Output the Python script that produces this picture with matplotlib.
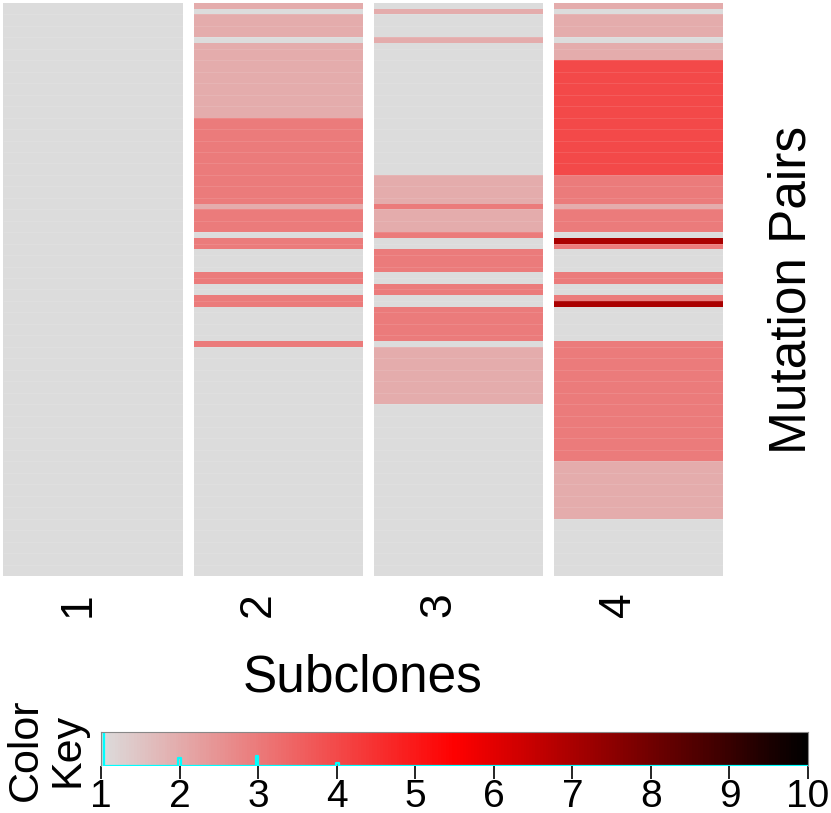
import numpy as np
import matplotlib
matplotlib.use("Agg")
import matplotlib.pyplot as plt
from matplotlib.colors import LinearSegmentedColormap

plt.rcParams['font.family'] = ['Liberation Sans', 'DejaVu Sans']

# values per subclone, one per mutation pair (top to bottom)
subclone_1 = [1, 1, 1, 1, 1, 1, 1, 1, 1, 1, 1, 1, 1, 1, 1, 1, 1, 1, 1, 1,
              1, 1, 1, 1, 1, 1, 1, 1, 1, 1, 1, 1, 1, 1, 1, 1, 1, 1, 1, 1,
              1, 1, 1, 1, 1, 1, 1, 1, 1, 1, 1, 1, 1, 1, 1, 1, 1, 1, 1, 1,
              1, 1, 1, 1, 1, 1, 1, 1, 1, 1, 1, 1, 1, 1, 1, 1, 1, 1, 1, 1,
              1, 1, 1, 1, 1, 1, 1, 1, 1, 1, 1, 1, 1, 1, 1, 1, 1, 1, 1, 1]
subclone_2 = [2, 1, 2, 2, 2, 2, 1, 2, 2, 2, 2, 2, 2, 2, 2, 2, 2, 2, 2, 2,
              3, 3, 3, 3, 3, 3, 3, 3, 3, 3, 3, 3, 3, 3, 3, 2, 3, 3, 3, 3,
              1, 3, 3, 1, 1, 1, 1, 3, 3, 1, 1, 3, 3, 1, 1, 1, 1, 1, 1, 3,
              1, 1, 1, 1, 1, 1, 1, 1, 1, 1, 1, 1, 1, 1, 1, 1, 1, 1, 1, 1,
              1, 1, 1, 1, 1, 1, 1, 1, 1, 1, 1, 1, 1, 1, 1, 1, 1, 1, 1, 1]
subclone_3 = [1, 2, 1, 1, 1, 1, 2, 1, 1, 1, 1, 1, 1, 1, 1, 1, 1, 1, 1, 1,
              1, 1, 1, 1, 1, 1, 1, 1, 1, 1, 2, 2, 2, 2, 2, 3, 2, 2, 2, 2,
              3, 1, 1, 3, 3, 3, 3, 1, 1, 3, 3, 1, 1, 3, 3, 3, 3, 3, 3, 1,
              2, 2, 2, 2, 2, 2, 2, 2, 2, 2, 1, 1, 1, 1, 1, 1, 1, 1, 1, 1,
              1, 1, 1, 1, 1, 1, 1, 1, 1, 1, 1, 1, 1, 1, 1, 1, 1, 1, 1, 1]
subclone_4 = [2, 1, 2, 2, 2, 2, 1, 2, 2, 2, 4, 4, 4, 4, 4, 4, 4, 4, 4, 4,
              4, 4, 4, 4, 4, 4, 4, 4, 4, 4, 3, 3, 3, 3, 3, 2, 3, 3, 3, 3,
              1, 7, 3, 1, 1, 1, 1, 3, 3, 1, 1, 3, 7, 1, 1, 1, 1, 1, 1, 3,
              3, 3, 3, 3, 3, 3, 3, 3, 3, 3, 3, 3, 3, 3, 3, 3, 3, 3, 3, 3,
              2, 2, 2, 2, 2, 2, 2, 2, 2, 2, 1, 1, 1, 1, 1, 1, 1, 1, 1, 1]
subclone_labels = ['1', '2', '3', '4']
key_ticks = [1, 2, 3, 4, 5, 6, 7, 8, 9, 10]

mat = np.array([subclone_1, subclone_2, subclone_3, subclone_4]).T
n_rows, n_cols = mat.shape
vmin, vmax = 1, 10

cmap = LinearSegmentedColormap.from_list('key', ['#dcdcdc', '#ff0000', '#000000'], N=256)

W, H = 831, 813
fig = plt.figure(figsize=(W / 100, H / 100), dpi=100)

def box(x0, y0, x1, y1):
    # pixel box (top-left origin) -> figure fraction rect
    return [x0 / W, 1 - y1 / H, (x1 - x0) / W, (y1 - y0) / H]

##### heatmap
ax = fig.add_axes(box(3, 3, 723, 576))
xe = np.arange(n_cols + 1) + 0.5
ye = np.arange(n_rows + 1)
ax.pcolormesh(xe, ye, mat, cmap=cmap, vmin=vmin, vmax=vmax)
# faint row seams
ax.hlines(ye[2:-1:2], 0.5, n_cols + 0.5, colors='white', alpha=0.12, lw=0.6)
# white column separators
sep = 11 / 180
for c in range(1, n_cols):
    ax.axvspan(c + 0.5, c + 0.5 + sep, color='white', lw=0)
ax.set_xlim(0.5, n_cols + 0.5)
ax.set_ylim(n_rows, 0)
for s in ax.spines.values():
    s.set_visible(False)
ax.set_yticks([])
# labels sit a little left of the column centres, as in the original
ax.set_xticks(np.arange(1, n_cols + 1) - 0.08)
ax.set_xticklabels(subclone_labels, rotation=90, fontsize=32, va='top')
ax.tick_params(axis='x', length=0, pad=12)
ax.set_xlabel('Subclones', fontsize=37, labelpad=26)
ax.yaxis.set_label_position('right')
ax.set_ylabel('Mutation Pairs', fontsize=37, rotation=90, labelpad=32)

##### colour key with histogram
kx = fig.add_axes(box(101, 732, 808, 766))
grad = np.linspace(vmin, vmax, 256).reshape(1, -1)
kx.imshow(grad, cmap=cmap, vmin=vmin, vmax=vmax, aspect='auto',
          extent=[vmin, vmax, 0, 1], interpolation='nearest')
counts, edges = np.histogram(mat.ravel(), bins=np.linspace(vmin, vmax, 257))
hy = np.append(counts, counts[-1]) / counts.max()
kx.step(edges, hy, where='post', color='cyan', lw=1.6)
kx.plot([edges[0], edges[0]], [0, hy[0]], color='cyan', lw=1.6)
kx.set_xlim(vmin, vmax)
kx.set_ylim(0, 1)
kx.set_yticks([])
kx.set_xticks(key_ticks)
kx.tick_params(axis='x', length=9, width=1.2, labelsize=28, pad=0)
for s in kx.spines.values():
    s.set_color('#888888')
kx.spines['bottom'].set_visible(False)
fig.text(47 / W, 1 - 750 / H, 'Color\nKey', rotation=90, fontsize=31,
         ha='center', va='center', linespacing=1.05)

fig.savefig('out.png', dpi=100)
